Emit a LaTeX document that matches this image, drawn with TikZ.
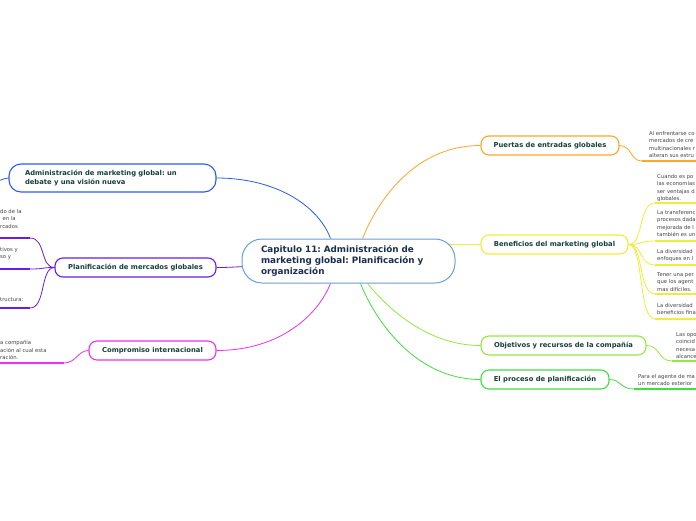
\documentclass[tikz,border=0pt]{standalone}
\usepackage{fontspec}
\setmainfont{DejaVu Sans}
\frenchspacing
\pgfdeclarelayer{bottom}
\pgfdeclarelayer{background}
\pgfsetlayers{bottom,background,main}
\definecolor{cblue}{HTML}{2A5BF5}
\definecolor{cpurple}{HTML}{6A1DE6}
\definecolor{cmag}{HTML}{EE2EF0}
\definecolor{corange}{HTML}{FFA626}
\definecolor{cyellow}{HTML}{EEEE3A}
\definecolor{clgreen}{HTML}{92EA40}
\definecolor{cgreen}{HTML}{3EE03E}
\definecolor{ccenter}{HTML}{6A9FD0}
\definecolor{nodetext}{HTML}{17403A}
\definecolor{centertext}{HTML}{1C2D4F}
\definecolor{leaftext}{HTML}{444444}
\tikzset{
  mainnode/.style={draw, line width=1.1pt, rounded corners=8pt, fill=white,
    font=\bfseries\fontsize{6.8}{9}\selectfont, text=nodetext,
    minimum height=19pt, inner sep=0pt, anchor=center},
  leaftxt/.style={anchor=north west, align=left, inner sep=0pt,
    font=\fontsize{5.3}{7.3}\selectfont, text=leaftext},
  conn/.style={line width=0.8pt},
  uline/.style={line width=1.8pt}
}
\begin{document}
\begin{tikzpicture}[x=1pt,y=-1pt]
\useasboundingbox (0,0) rectangle (696,520);
\begin{pgfonlayer}{bottom}
\fill[white] (0,0) rectangle (696,520);
\end{pgfonlayer}
\clip (0,0) rectangle (696,520);

% central node
\node[draw=ccenter, line width=1pt, rounded corners=20pt, fill=white, minimum width=213pt,
  minimum height=44pt, text width=175pt, align=left, inner sep=0pt, text=centertext,
  font=\bfseries\fontsize{8.8}{11}\selectfont] (cap) at (348.5,261)
  {Capitulo 11: Administración de\\marketing global: Planificación y\\organización};

% main nodes
\node[mainnode, draw=cblue, minimum width=207pt, minimum height=28pt, text width=175pt,
  align=left, rounded corners=12pt] (admin) at (112.5,178)
  {Administración de marketing global: un\\debate y una visión nueva};
\node[mainnode, draw=cpurple, minimum width=161pt] (plan) at (135.5,267.5) {Planificación de mercados globales};
\node[mainnode, draw=cmag, minimum width=127pt] (comp) at (152.5,350.5) {Compromiso internacional};
\node[mainnode, draw=corange, minimum width=138pt] (puer) at (550,145.5) {Puertas de entradas globales};
\node[mainnode, draw=cyellow, minimum width=147pt] (bene) at (554.5,244.5) {Beneficios del marketing global};
\node[mainnode, draw=clgreen, minimum width=165pt] (obje) at (563.5,345.5) {Objetivos y recursos de la compañía};
\node[mainnode, draw=cgreen, minimum width=128pt] (proc) at (545,379.5) {El proceso de planificación};

% leaf texts
\node[leaftxt] (lp) at (649,131.4) {Al enfrentarse co\\mercados de cre\\multinacionales r\\alteran sus estru};
\node[leaftxt] (lb1) at (657,174.4) {Cuando es po\\las economías\\ser ventajas d\\globales.};
\node[leaftxt] (lb2) at (657,210.4) {La transferenc\\procesos dada\\mejorada de l\\también es un};
\node[leaftxt] (lb3) at (657,249.4) {La diversidad\\enfoques en l};
\node[leaftxt] (lb4) at (657,272.4) {Tener una per\\que los agent\\mas difíciles.};
\node[leaftxt] (lb5) at (657,303.4) {La diversidad\\beneficios fina};
\node[leaftxt] (lo) at (676,332.4) {Las opo\\coincid\\necesa\\alcance};
\node[leaftxt] (lpr) at (638,374.4) {Para el agente de ma\\un mercado exterior};
\node[leaftxt] (ll1) at (0,209.4) {do de la\\\hspace*{2.5pt}en la\\rcados};
\node[leaftxt] (ll2) at (0,247.4) {tivos y\\so y};
\node[leaftxt] (ll3) at (0,297.4) {tructura:};
\node[leaftxt] (lc) at (0,340.4) {a compañía\\ación al cual esta\\ración.};

% leaf underline start points
\coordinate (up) at (642,161);
\coordinate (ub1) at (655,203);
\coordinate (ub2) at (655,241);
\coordinate (ub3) at (655,265);
\coordinate (ub4) at (655,294);
\coordinate (ub5) at (655,319);
\coordinate (uo) at (672,361);
\coordinate (upr) at (634,389);
\coordinate (ul1) at (30,238);
\coordinate (ul2) at (30,269);
\coordinate (ul3) at (30,308);
\coordinate (uc) at (64,363);
\coordinate (ua) at (-10,182);

\begin{pgfonlayer}{background}
% center connectors
\draw[conn, cblue] (admin.east) .. controls (275,178) and (318,205) .. ([xshift=-18pt]cap.north);
\draw[conn, cpurple] (plan.east) .. controls (228,267.5) and (236,267) .. (252,266);
\draw[conn, cmag] (comp.east) .. controls (280,350.5) and (318,315) .. ([xshift=-18pt]cap.south);
\draw[conn, corange] (puer.west) .. controls (415,145.5) and (378,200) .. ([xshift=14pt]cap.north);
\draw[conn, cyellow] (bene.west) -- (448,244.5);
\draw[conn, clgreen] (obje.west) .. controls (425,345.5) and (385,305) .. ([xshift=19pt]cap.south);
\draw[conn, cgreen] (proc.west) .. controls (415,379.5) and (375,320) .. ([xshift=12pt]cap.south);

% leaf connectors
\draw[conn, corange] (puer.east) .. controls (632,145.5) and (630,161) .. (up);
\draw[uline, corange] (up) -- ++(70,0);
\foreach \u in {ub1,ub2,ub3,ub4,ub5}{
  \draw[conn, cyellow] (bene.east) .. controls (644,244.5) and (638,0|-\u) .. (\u);
  \draw[uline, cyellow] (\u) -- ++(60,0);
}
\draw[conn, clgreen] (obje.east) .. controls (660,345.5) and (658,361) .. (uo);
\draw[uline, clgreen] (uo) -- ++(40,0);
\draw[conn, cgreen] (proc.east) .. controls (621,379.5) and (620,389) .. (upr);
\draw[uline, cgreen] (upr) -- ++(70,0);
\foreach \u in {ul1,ul2,ul3}{
  \draw[conn, cpurple] (plan.west) .. controls (40,267.5) and (46,0|-\u) .. (\u);
  \draw[uline, cpurple] (\u) -- ++(-40,0);
}
\draw[conn, cmag] (comp.west) .. controls (78,350.5) and (76,363) .. (uc);
\draw[uline, cmag] (uc) -- ++(-70,0);
\draw[conn, cblue] (admin.west) .. controls (3,178) and (0,182) .. (ua);
\end{pgfonlayer}
\end{tikzpicture}
\end{document}
